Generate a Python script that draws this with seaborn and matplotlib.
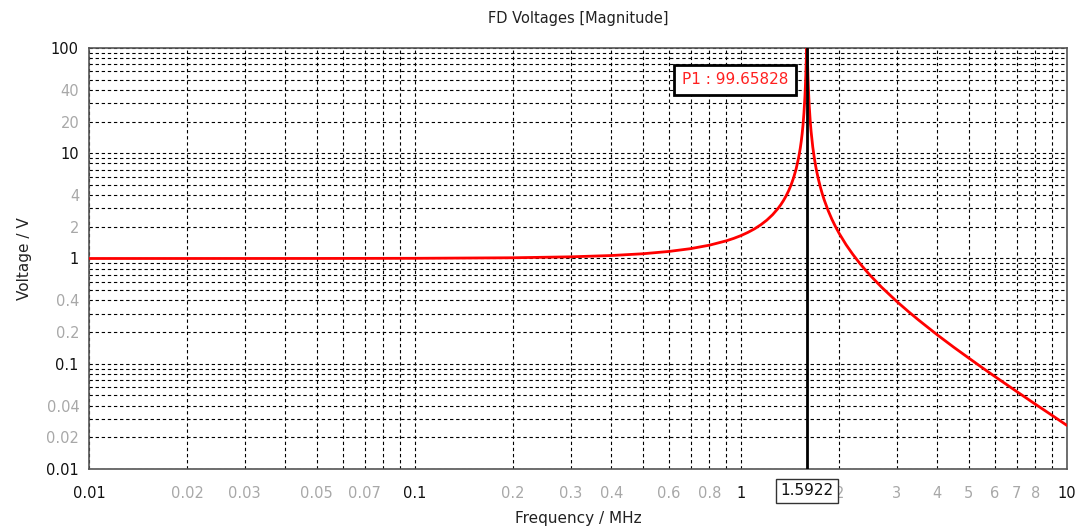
import numpy as np
import pandas as pd
import matplotlib
matplotlib.use("Agg")
import matplotlib.pyplot as plt
import matplotlib.ticker as mticker
import seaborn as sns

# values (MHz, V)
freq_mhz = [0.01, 0.02, 0.05, 0.1, 0.2, 0.3, 0.4, 0.5, 0.6, 0.7, 0.8, 0.9, 0.95,
            1.0, 1.05, 1.1, 1.15, 1.2, 1.25, 1.3, 1.325, 1.35, 1.375, 1.4, 1.425,
            1.45, 1.475, 1.5, 1.51, 1.52, 1.53, 1.54, 1.55, 1.56, 1.57, 1.575,
            1.58, 1.585, 1.588, 1.59, 1.5922, 1.595, 1.597, 1.60, 1.605, 1.61,
            1.615, 1.62, 1.63, 1.64, 1.66, 1.68, 1.7, 1.725, 1.75, 1.775, 1.8,
            1.85, 1.9, 1.95, 2.0, 2.1, 2.2, 2.3, 2.4, 2.5, 2.7, 3.0, 3.25, 3.5,
            4.0, 4.5, 5.0, 5.5, 6.0, 7.0, 8.0, 9.0, 10.0]
voltage = [1.0, 1.0002, 1.001, 1.004, 1.016, 1.037, 1.067, 1.109, 1.166, 1.240,
           1.338, 1.470, 1.553, 1.651, 1.770, 1.913, 2.091, 2.315, 2.607, 3.000,
           3.252, 3.558, 3.934, 4.408, 5.025, 5.860, 7.053, 8.892, 9.942, 11.22,
           12.96, 15.34, 18.80, 24.26, 34.0, 42.3, 54.9, 74.3, 88.4, 96.2,
           99.65828, 93.9, 85.2, 71.1, 52.5, 40.5, 32.7, 27.3, 20.35, 16.18,
           11.42, 8.79, 7.12, 5.755, 4.807, 4.118, 3.597, 2.857, 2.358, 2.000,
           1.731, 1.352, 1.100, 0.920, 0.786, 0.682, 0.533, 0.392, 0.316, 0.261,
           0.188, 0.143, 0.113, 0.0915, 0.0758, 0.0546, 0.0412, 0.0323, 0.0259]

marker_f = 1.5922
marker_v = 99.65828

x_major = [0.01, 0.1, 1, 10]
x_major_labels = ["0.01", "0.1", "1", "10"]
x_minor = [m * d for d in (0.01, 0.1, 1) for m in range(2, 10)]
x_minor_labels = ["0.02", "0.03", "", "0.05", "", "0.07", "", "",
                  "0.2", "0.3", "0.4", "", "0.6", "", "0.8", "",
                  "2", "3", "4", "5", "6", "7", "8", ""]
y_major = [0.01, 0.1, 1, 10, 100]
y_major_labels = ["0.01", "0.1", "1", "10", "100"]
y_minor = [m * d for d in (0.01, 0.1, 1, 10) for m in range(2, 10)]
y_minor_labels = ["0.02", "", "0.04", "", "", "", "", "",
                  "0.2", "", "0.4", "", "", "", "", "",
                  "2", "", "4", "", "", "", "", "",
                  "20", "", "40", "", "", "", "", ""]

df = pd.DataFrame({"f": freq_mhz, "v": voltage})

sns.set_theme(style="white")
plt.rcParams["font.family"] = ["DejaVu Sans"]

fig = plt.figure(figsize=(10.8, 5.31), dpi=100)
ax = fig.add_axes([0.0824, 0.1168, 0.9056, 0.7928])

sns.lineplot(data=df, x="f", y="v", ax=ax, color="#ff0000", linewidth=2,
             legend=False, sort=True, zorder=4)

ax.set_xscale("log")
ax.set_yscale("log")
ax.set_xlim(0.01, 10)
ax.set_ylim(0.01, 100)

ax.xaxis.set_major_locator(mticker.FixedLocator(x_major))
ax.xaxis.set_major_formatter(mticker.FixedFormatter(x_major_labels))
ax.xaxis.set_minor_locator(mticker.FixedLocator(x_minor))
ax.xaxis.set_minor_formatter(mticker.FixedFormatter(x_minor_labels))
ax.yaxis.set_major_locator(mticker.FixedLocator(y_major))
ax.yaxis.set_major_formatter(mticker.FixedFormatter(y_major_labels))
ax.yaxis.set_minor_locator(mticker.FixedLocator(y_minor))
ax.yaxis.set_minor_formatter(mticker.FixedFormatter(y_minor_labels))

ax.tick_params(which="both", direction="inout", color="#444444", labelsize=10.5,
               width=1)
ax.tick_params(which="major", length=7, labelcolor="#111111")
ax.tick_params(which="minor", length=6, labelcolor="#a8a8a8")
ax.tick_params(axis="x", which="both", pad=9)
ax.tick_params(axis="y", which="both", pad=4)

ax.grid(True, which="both", color="black", linestyle=(0, (3, 2.5)), linewidth=0.8)
for side in ax.spines.values():
    side.set_color("#555555")
    side.set_linewidth(1.2)

ax.set_title("FD Voltages [Magnitude]", fontsize=10.5, pad=18, color="#222222")
ax.set_xlabel("Frequency / MHz", fontsize=11, labelpad=7, color="#222222")
ax.set_ylabel("Voltage / V", fontsize=11, labelpad=10, color="#222222")

# marker line and labels
ax.axvline(marker_f, color="black", linewidth=2, zorder=5)
ax.text(0.6605, 0.924, f"P1 : {marker_v:.5f}", transform=ax.transAxes,
        ha="center", va="center", fontsize=11, color="#ff2020", zorder=6,
        bbox=dict(boxstyle="square,pad=0.5", facecolor="white",
                  edgecolor="black", linewidth=2))
ax.text(marker_f, -0.052, f"{marker_f:.4f}", transform=ax.get_xaxis_transform(),
        ha="center", va="center", fontsize=11, color="#111111", zorder=6,
        clip_on=False,
        bbox=dict(boxstyle="square,pad=0.3", facecolor="white",
                  edgecolor="#333333", linewidth=1))

fig.savefig("out.png", dpi=100)
